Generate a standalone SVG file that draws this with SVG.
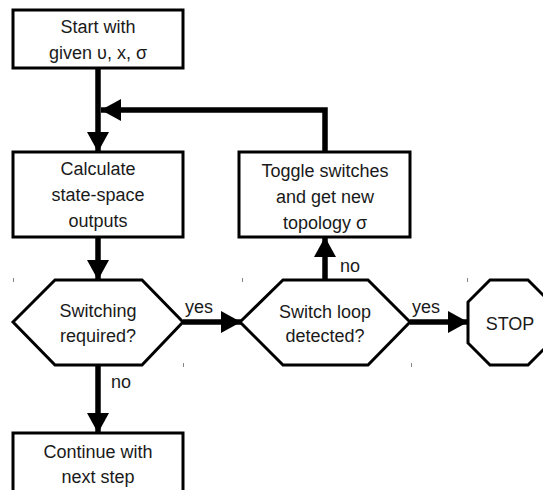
<svg xmlns="http://www.w3.org/2000/svg" width="543" height="490" viewBox="0 0 543 490">
<defs>
<style>
.box{fill:#fff;stroke:#000;stroke-width:3}
.t{font-family:"Liberation Sans",Arial,sans-serif;font-size:18px;fill:#1a1a1a;text-anchor:middle}
.lbl{font-family:"Liberation Sans",Arial,sans-serif;font-size:18px;fill:#1a1a1a}
.c{fill:none;stroke:#000;stroke-width:5.5}
.tick{stroke:#888;stroke-width:1}
</style>
<marker id="ah" markerUnits="userSpaceOnUse" markerWidth="21" markerHeight="24" refX="20" refY="12" orient="auto">
<path d="M0,1 L20,12 L0,23 z" fill="#000"/>
</marker>
</defs>
<rect width="543" height="490" fill="#fff"/>
<g id="connectors">
<line class="c" x1="98" y1="68" x2="98" y2="152" marker-end="url(#ah)"/>
<path class="c" d="M325,152 V110 H101" marker-end="url(#ah)"/>
<line class="c" x1="98" y1="237" x2="98" y2="280" marker-end="url(#ah)"/>
<line class="c" x1="183" y1="322" x2="241" y2="322" marker-end="url(#ah)"/>
<line class="c" x1="325" y1="280" x2="325" y2="237" marker-end="url(#ah)"/>
<line class="c" x1="410" y1="322" x2="468" y2="322" marker-end="url(#ah)"/>
<line class="c" x1="98" y1="365" x2="98" y2="433" marker-end="url(#ah)"/>
<text class="lbl" x="185" y="313">yes</text>
<text class="lbl" x="412" y="313">yes</text>
<text class="lbl" x="340" y="272">no</text>
<text class="lbl" x="111" y="388">no</text>
</g>
<g id="start">
<rect class="box" x="13" y="10" width="170" height="58"/>
<text class="t" x="98" y="33">Start with</text>
<text class="t" x="98" y="59">given υ, x, σ</text>
</g>
<g id="calc">
<rect class="box" x="13" y="152" width="170" height="85"/>
<text class="t" x="98" y="175">Calculate</text>
<text class="t" x="98" y="201">state-space</text>
<text class="t" x="98" y="227">outputs</text>
</g>
<g id="toggle">
<rect class="box" x="239" y="152" width="171" height="85"/>
<text class="t" x="325" y="177">Toggle switches</text>
<text class="t" x="325" y="203">and get new</text>
<text class="t" x="325" y="229">topology σ</text>
</g>
<g id="switching">
<polygon class="box" points="13,322 55,280 142,280 183,322 142,365 55,365"/>
<text class="t" x="98" y="317">Switching</text>
<text class="t" x="98" y="342">required?</text>
<line class="tick" x1="13.5" y1="278" x2="13.5" y2="282"/>
<line class="tick" x1="183.5" y1="363" x2="183.5" y2="367"/>
</g>
<g id="loop">
<polygon class="box" points="240,322 283,280 368,280 410,322 368,365 283,365"/>
<text class="t" x="325" y="318">Switch loop</text>
<text class="t" x="325" y="342">detected?</text>
<line class="tick" x1="242.5" y1="278" x2="242.5" y2="282"/>
<line class="tick" x1="411.5" y1="363" x2="411.5" y2="367"/>
</g>
<g id="stop">
<polygon class="box" points="490,280 528,280 550,302 550,343 528,365 490,365 468,343 468,302"/>
<text class="t" x="510" y="330">STOP</text>
<line class="tick" x1="467.5" y1="278" x2="467.5" y2="282"/>
</g>
<g id="continue">
<rect class="box" x="13" y="433" width="170" height="70"/>
<text class="t" x="98" y="458">Continue with</text>
<text class="t" x="98" y="483">next step</text>
</g>
</svg>
